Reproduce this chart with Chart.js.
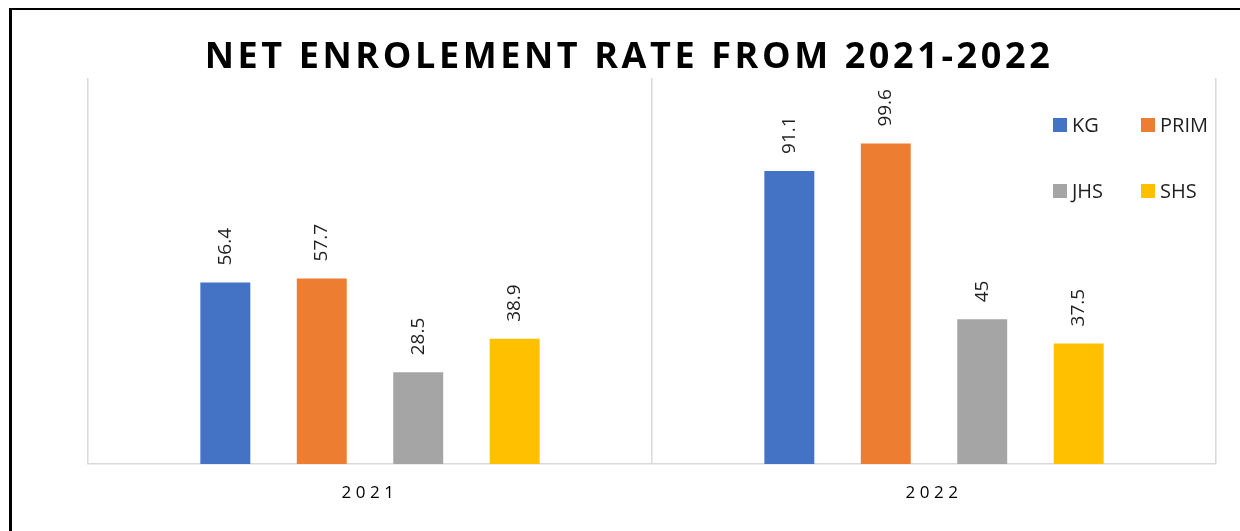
<!DOCTYPE html>
<html>
<head>
<meta charset="utf-8">
<title>Net Enrolement Rate</title>
<script src="https://cdn.jsdelivr.net/npm/chart.js@4/dist/chart.umd.min.js"></script>
<style>
  html, body { margin: 0; padding: 0; background: #fff; }
  #wrap { width: 1240px; height: 531px; }
</style>
</head>
<body>
<div id="wrap"><canvas id="myChart"></canvas></div>
<script>
const years = ['2021', '2022'];
const kg = [56.4, 91.1];
const prim = [57.7, 99.6];
const jhs = [28.5, 45];
const shs = [38.9, 37.5];
const levels = ['KG', 'PRIM', 'JHS', 'SHS'];
const colors = ['#4472C4', '#ED7D31', '#A5A5A5', '#FFC000'];

const FONT = '"Open Sans", "Noto Sans", sans-serif';

// white background, frame lines and the spaced title
const frame = {
  id: 'frame',
  beforeDraw(chart) {
    const ctx = chart.ctx;
    ctx.save();
    ctx.fillStyle = '#fff';
    ctx.fillRect(0, 0, chart.width, chart.height);
    ctx.strokeStyle = '#000';
    ctx.lineWidth = 3;
    ctx.beginPath();
    ctx.moveTo(10.5, chart.height);
    ctx.lineTo(10.5, 9);
    ctx.stroke();
    ctx.lineWidth = 2;
    ctx.beginPath();
    ctx.moveTo(9, 9);
    ctx.lineTo(chart.width, 9);
    ctx.stroke();

    ctx.fillStyle = '#000';
    ctx.font = 'bold 36px ' + FONT;
    ctx.letterSpacing = '3.6px';
    ctx.textAlign = 'center';
    ctx.textBaseline = 'alphabetic';
    ctx.fillText('NET ENROLEMENT RATE FROM 2021-2022', 629, 68);
    ctx.restore();
    // spaced-out category labels
    ctx.letterSpacing = '4.5px';
  },
  beforeDatasetsDraw(chart) {
    chart.ctx.letterSpacing = '0px';
  }
};

// rotated value labels above each bar
const barValues = {
  id: 'barValues',
  afterDatasetsDraw(chart) {
    const ctx = chart.ctx;
    ctx.save();
    ctx.fillStyle = '#1f1f1f';
    ctx.font = '19px ' + FONT;
    ctx.textAlign = 'left';
    ctx.textBaseline = 'middle';
    chart.data.datasets.forEach((ds, i) => {
      chart.getDatasetMeta(i).data.forEach((bar, j) => {
        ctx.save();
        ctx.translate(bar.x, bar.y - 17);
        ctx.rotate(-Math.PI / 2);
        ctx.fillText(String(ds.data[j]), 0, 0);
        ctx.restore();
      });
    });
    ctx.restore();
  }
};

// two-column legend inside the plot area
const legendBox = {
  id: 'legendBox',
  afterDraw(chart) {
    const ctx = chart.ctx;
    ctx.save();
    ctx.font = '20px ' + FONT;
    ctx.textBaseline = 'middle';
    ctx.textAlign = 'left';
    chart.data.datasets.forEach((ds, i) => {
      const x = 1053 + (i % 2) * 88;
      const y = 125 + Math.floor(i / 2) * 66;
      ctx.fillStyle = ds.backgroundColor;
      ctx.fillRect(x, y - 7, 14, 14);
      ctx.fillStyle = '#1f1f1f';
      ctx.fillText(ds.label, x + 19, y + 1);
    });
    ctx.restore();
  }
};

const series = [kg, prim, jhs, shs];

new Chart(document.getElementById('myChart'), {
  type: 'bar',
  data: {
    labels: years,
    datasets: levels.map((name, i) => ({
      label: name,
      data: series[i],
      backgroundColor: colors[i],
      categoryPercentage: 0.684,
      barPercentage: 0.518
    }))
  },
  options: {
    responsive: true,
    maintainAspectRatio: false,
    animation: false,
    layout: { padding: { left: 88, right: 24, top: 78, bottom: 0 } },
    plugins: {
      legend: { display: false },
      title: { display: false },
      tooltip: { enabled: false }
    },
    scales: {
      x: {
        grid: { color: '#D9D9D9', lineWidth: 1.5, drawTicks: false, offset: true },
        border: { color: '#D9D9D9', width: 1.5 },
        ticks: { color: '#000', font: { family: FONT, size: 17 }, padding: 19 },
        afterFit(scale) { scale.height = 67; }
      },
      y: {
        display: false,
        min: 0,
        max: 120
      }
    }
  },
  plugins: [frame, barValues, legendBox]
});
</script>
</body>
</html>
